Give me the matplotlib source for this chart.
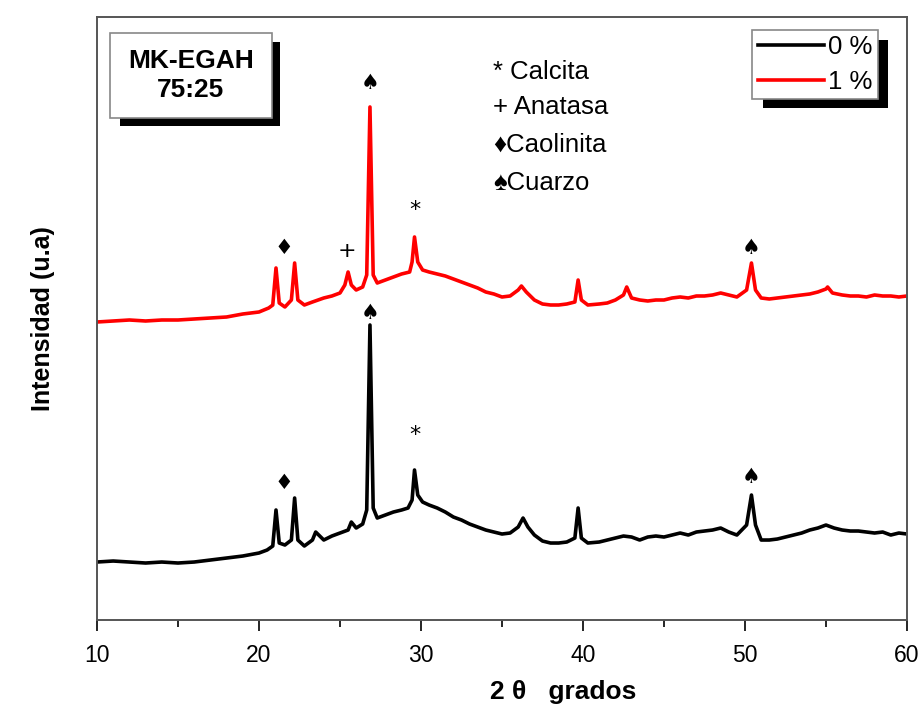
import matplotlib
matplotlib.use("Agg")
import matplotlib.pyplot as plt
from matplotlib.patches import Rectangle
from matplotlib.ticker import MultipleLocator

# difractogramas MK-EGAH 75:25, 0 % y 1 %
x_0 = [10, 11, 12, 13, 14, 15, 16, 17, 18, 19, 20,
       20.5, 20.85, 21.05, 21.25, 21.6,
       22.0, 22.2, 22.4, 22.8,
       23.3, 23.5, 24, 24.5, 25, 25.5, 25.7, 26, 26.4,
       26.65, 26.85, 27.05, 27.3, 27.8, 28.3, 28.8, 29.2,
       29.45, 29.6, 29.8, 30.1, 30.5,
       31, 31.5, 32, 32.5, 33, 33.5, 34, 34.5, 35, 35.5,
       36.0, 36.3, 36.6, 37, 37.5, 38, 38.5, 39, 39.5,
       39.7, 39.9, 40.3,
       41, 41.5, 42, 42.5, 43, 43.5, 44, 44.5, 45, 45.5, 46, 46.5, 47, 47.5, 48, 48.5, 49, 49.5,
       50.1, 50.4, 50.65,
       51, 51.5, 52, 52.5, 53, 53.5, 54, 54.5, 55, 55.5, 56, 56.5, 57, 57.5, 58, 58.5, 59, 59.5, 60]
i_0 = [58, 59, 58, 57, 58, 57, 58, 60, 62, 64, 67,
       70, 74, 110, 77, 75,
       80, 122, 80, 74,
       80, 88, 80, 84, 87, 90, 98, 92, 96,
       110, 295, 112, 102, 105, 108, 110, 112,
       120, 150, 125, 118, 115,
       112, 108, 103, 100, 96, 93, 90, 88, 86, 87,
       93, 102, 93, 85, 79, 77, 77, 78, 82,
       112, 82, 77,
       78, 80, 82, 84, 83, 80, 83, 84, 83, 85, 87, 85, 88, 89, 90, 92, 88, 85,
       95, 125, 95,
       80, 80, 81, 83, 85, 87, 90, 92, 95, 92, 90, 89, 89, 88, 87, 88, 85, 87, 86]

x_1 = [10, 11, 12, 13, 14, 15, 16, 17, 18, 19, 20,
       20.6, 20.85, 21.05, 21.25, 21.6,
       22.0, 22.2, 22.4, 22.8,
       23.3, 24, 24.5, 25.0, 25.3, 25.5, 25.7, 26.0, 26.4,
       26.65, 26.85, 27.05, 27.3, 27.8, 28.3, 28.8, 29.3,
       29.45, 29.6, 29.8, 30.1, 30.5,
       31, 31.5, 32, 32.5, 33, 33.5, 34, 34.5, 35, 35.5,
       36, 36.2, 36.5, 37, 37.5, 38, 38.5, 39, 39.5,
       39.7, 39.9, 40.3,
       41, 41.5, 42, 42.5, 42.7, 43, 43.5, 44, 44.5, 45, 45.5, 46, 46.5, 47, 47.5, 48, 48.5, 49, 49.5,
       50.1, 50.4, 50.65,
       51, 51.5, 52, 52.5, 53, 53.5, 54, 54.5, 55, 55.1, 55.4, 56, 56.5, 57, 57.5, 58, 58.5, 59, 59.5, 60]
i_1 = [298, 299, 300, 299, 300, 300, 301, 302, 303, 306, 308,
       312, 315, 352, 317, 313,
       320, 357, 320, 315,
       318, 322, 324, 327, 335, 348, 335, 330, 333,
       345, 513, 345, 337, 340, 343, 346, 348,
       358, 383, 358, 350, 348,
       346, 344, 341, 338, 335, 332, 328, 326, 323, 324,
       330, 334, 328, 320, 316, 315, 315, 316, 318,
       340, 320, 315,
       316, 317, 320, 325, 333, 322, 320, 319, 320, 320, 322, 323, 322, 324, 324, 325, 327, 325, 323,
       330, 357, 330,
       322, 321, 322, 323, 324, 325, 326, 328, 331, 333, 327, 325, 324, 324, 323, 325, 324, 324, 323, 324]

# simbolos de fase sobre los picos: (2theta, altura, simbolo)
marcas_0 = [(21.55, 137, "\u2666"), (26.85, 307, "\u2660"), (29.6, 185, "*"), (50.4, 143, "\u2660")]
marcas_1 = [(21.55, 372, "\u2666"), (25.4, 369, "+"), (26.85, 537, "\u2660"),
            (29.6, 410, "*"), (50.4, 372, "\u2660")]

fases = ["* Calcita", "+ Anatasa", "\u2666Caolinita", "\u2660Cuarzo"]
fases_y = [548, 513, 475, 437]

plt.rcParams['font.family'] = ['Liberation Sans', 'DejaVu Sans']

fig = plt.figure(figsize=(9.22, 7.13), dpi=100)
ax = fig.add_axes([0.1052, 0.1304, 0.8785, 0.8458])

ax.plot(x_0, i_0, color="black", lw=2.6, label="0 %")
ax.plot(x_1, i_1, color="#ff0000", lw=2.6, label="1 %")

for xm, ym, s in marcas_0 + marcas_1:
    size = 16 if s in ("*", "+") else 15
    ax.text(xm, ym, s, ha="center", va="center", fontsize=size, color="black",
            family=["DejaVu Sans"])

for t, yy in zip(fases, fases_y):
    ax.text(0.489, yy, t, transform=ax.get_yaxis_transform(), ha="left", va="center",
            fontsize=18.5, family=["Liberation Sans", "DejaVu Sans"])

ax.set_xlim(10, 60)
ax.set_ylim(0, 603)
ax.xaxis.set_major_locator(MultipleLocator(10))
ax.xaxis.set_minor_locator(MultipleLocator(5))
ax.tick_params(axis="x", which="major", direction="out", length=8, width=1.2,
               labelsize=16.5, pad=9)
ax.tick_params(axis="x", which="minor", direction="out", length=5, width=1.2)
ax.set_yticks([])
for sp in ax.spines.values():
    sp.set_color("#555555")
    sp.set_linewidth(1.4)

ax.set_ylabel("Intensidad (u.a)", fontsize=18, fontweight="bold", labelpad=30)
ax.set_xlabel("2 \u03b8   grados", fontsize=19, fontweight="bold")
ax.xaxis.set_label_coords(0.575, -0.1)

# recuadro con el nombre de la muestra y su sombra
ax.add_patch(Rectangle((0.0284, 0.819), 0.198, 0.140, transform=ax.transAxes,
                       facecolor="black", edgecolor="none", zorder=5))
ax.add_patch(Rectangle((0.016, 0.833), 0.200, 0.140, transform=ax.transAxes,
                       facecolor="white", edgecolor="#888888", lw=1.2, zorder=6))
ax.text(0.116, 0.903, "MK-EGAH\n75:25", transform=ax.transAxes, ha="center", va="center",
        fontsize=19, fontweight="bold", linespacing=1.25, zorder=7)

leg = ax.legend(loc="upper right", bbox_to_anchor=(0.964, 0.978), borderaxespad=0,
                fontsize=18.5, handlelength=2.6, handletextpad=0.15, borderpad=0.2,
                labelspacing=0.4, fancybox=False, edgecolor="#888888", framealpha=1)
leg.get_frame().set_linewidth(1.2)
leg.set_zorder(6)

fig.canvas.draw()
bb = leg.get_window_extent().transformed(fig.transFigure.inverted())
ax.add_patch(Rectangle((bb.x0 + 0.011, bb.y0 - 0.013), bb.width, bb.height,
                       transform=fig.transFigure, facecolor="black", edgecolor="none",
                       zorder=5, clip_on=False))

fig.savefig("out.png", dpi=100, facecolor="white")
